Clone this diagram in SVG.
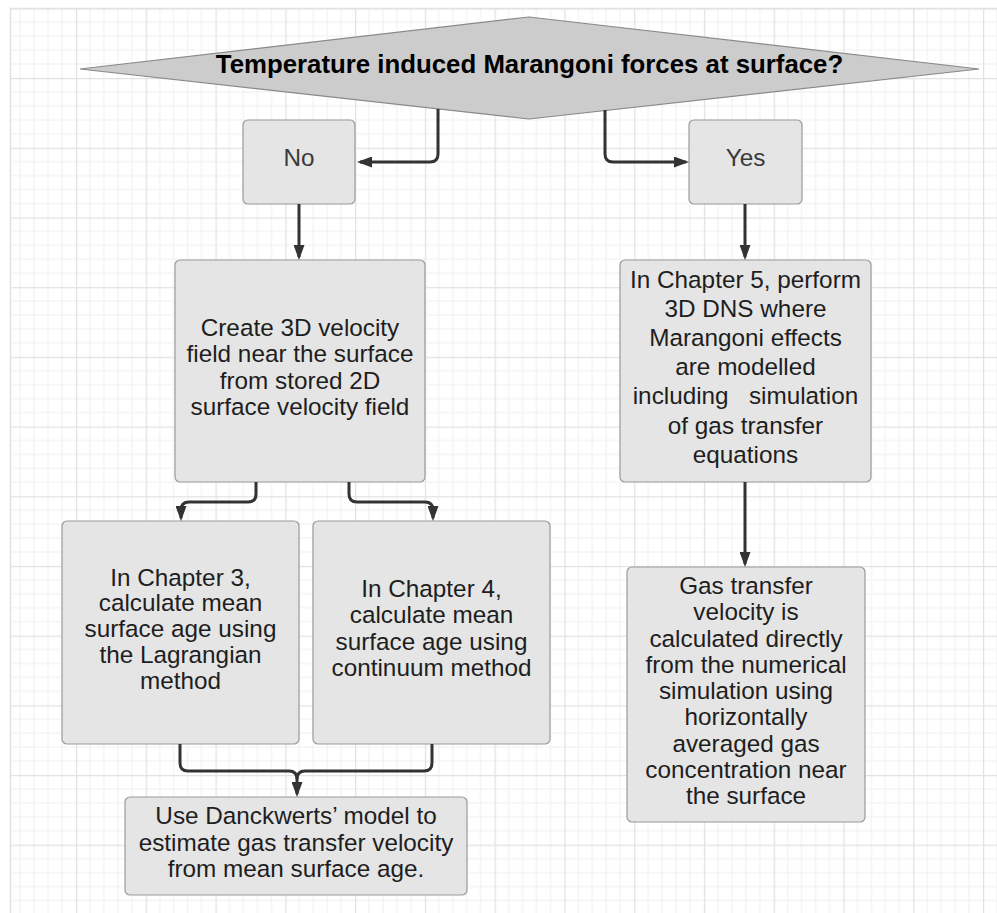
<svg xmlns="http://www.w3.org/2000/svg" width="997" height="913" viewBox="0 0 997 913">
  <defs>
    <pattern id="grid" patternUnits="userSpaceOnUse" x="6.2" y="8.3" width="69.77" height="69.7">
      <g stroke="#efefef" stroke-width="1" fill="none">
        <path d="M13.95,0 V69.7 M27.9,0 V69.7 M41.86,0 V69.7 M55.81,0 V69.7"/>
        <path d="M0,13.94 H69.77 M0,27.88 H69.77 M0,41.82 H69.77 M0,55.76 H69.77"/>
      </g>
      <g stroke="#e2e2e2" stroke-width="1.5" fill="none">
        <path d="M0.5,0 V69.7 M0,0.5 H69.77"/>
      </g>
    </pattern>
    <marker id="arr" markerUnits="userSpaceOnUse" markerWidth="15" markerHeight="11" refX="12" refY="5.5" orient="auto">
      <path d="M0,0 L15,5.5 L0,11 z" fill="#333333"/>
    </marker>
    <style>
      .box { fill: #e5e5e5; stroke: #9a9a9a; stroke-width: 1.2; }
      .dia { fill: #cccccc; stroke: #8a8a8a; stroke-width: 1.2; }
      .t { font-family: "Liberation Sans", Arial, sans-serif; font-size: 24.3px; fill: #1e1e1e; text-anchor: middle; }
      .lbl { font-family: "Liberation Sans", Arial, sans-serif; font-size: 24.3px; fill: #3a3a3a; text-anchor: middle; }
      .title { font-family: "Liberation Sans", Arial, sans-serif; font-size: 25.8px; font-weight: bold; fill: #000000; text-anchor: middle; }
      .con { fill: none; stroke: #333333; stroke-width: 3; marker-end: url(#arr); }
    </style>
  </defs>

  <rect x="0" y="0" width="997" height="913" fill="#ffffff"/>
  <rect x="10" y="8" width="987" height="905" fill="url(#grid)"/>
  <path d="M10,8.5 H997 M10.5,8 V913" stroke="#e2e2e2" stroke-width="1.5" fill="none"/>

  <g id="decision">
    <polygon class="dia" points="80,69 529,17 979,69 529,119"/>
    <text class="title" x="529.5" y="73">Temperature induced Marangoni forces at surface?</text>
  </g>

  <g id="no">
    <rect class="box" x="243" y="120" width="112" height="84" rx="5"/>
    <text class="lbl" x="299" y="166">No</text>
  </g>

  <g id="yes">
    <rect class="box" x="689" y="120" width="113" height="84" rx="5"/>
    <text class="lbl" x="745.5" y="166">Yes</text>
  </g>

  <g id="create">
    <rect class="box" x="175" y="260" width="250" height="222" rx="5"/>
    <text class="t" x="300" y="336">Create 3D velocity</text>
    <text class="t" x="300" y="362.3">field near the surface</text>
    <text class="t" x="300" y="388.6">from stored 2D</text>
    <text class="t" x="300" y="414.9">surface velocity field</text>
  </g>

  <g id="chapter5">
    <rect class="box" x="620" y="260" width="251" height="222" rx="5"/>
    <text class="t" x="745.5" y="288">In Chapter 5, perform</text>
    <text class="t" x="745.5" y="317.1">3D DNS where</text>
    <text class="t" x="745.5" y="346.2">Marangoni effects</text>
    <text class="t" x="745.5" y="375.3">are modelled</text>
    <text class="t" x="745.5" y="404.4" xml:space="preserve">including   simulation</text>
    <text class="t" x="745.5" y="433.5">of gas transfer</text>
    <text class="t" x="745.5" y="462.6">equations</text>
  </g>

  <g id="chapter3">
    <rect class="box" x="62" y="521" width="237" height="223" rx="5"/>
    <text class="t" x="180.5" y="585.5">In Chapter 3,</text>
    <text class="t" x="180.5" y="611.3">calculate mean</text>
    <text class="t" x="180.5" y="637.1">surface age using</text>
    <text class="t" x="180.5" y="662.9">the Lagrangian</text>
    <text class="t" x="180.5" y="688.7">method</text>
  </g>

  <g id="chapter4">
    <rect class="box" x="313" y="521" width="237" height="223" rx="5"/>
    <text class="t" x="431.5" y="597">In Chapter 4,</text>
    <text class="t" x="431.5" y="623.4">calculate mean</text>
    <text class="t" x="431.5" y="649.8">surface age using</text>
    <text class="t" x="431.5" y="676.2">continuum method</text>
  </g>

  <g id="danckwerts">
    <rect class="box" x="125" y="797" width="342" height="98" rx="5"/>
    <text class="t" x="296" y="824">Use Danckwerts’ model to</text>
    <text class="t" x="296" y="850.5">estimate gas transfer velocity</text>
    <text class="t" x="296" y="877">from mean surface age.</text>
  </g>

  <g id="gastransfer">
    <rect class="box" x="627" y="567" width="238" height="255" rx="5"/>
    <text class="t" x="746" y="594">Gas transfer</text>
    <text class="t" x="746" y="620.25">velocity is</text>
    <text class="t" x="746" y="646.5">calculated directly</text>
    <text class="t" x="746" y="672.75">from the numerical</text>
    <text class="t" x="746" y="699">simulation using</text>
    <text class="t" x="746" y="725.25">horizontally</text>
    <text class="t" x="746" y="751.5">averaged gas</text>
    <text class="t" x="746" y="777.75">concentration near</text>
    <text class="t" x="746" y="804">the surface</text>
  </g>

  <g id="connectors">
    <path class="con" d="M438,109 V154 Q438,162 430,162 H360"/>
    <path class="con" d="M605,110 V154 Q605,162 613,162 H686"/>
    <path class="con" d="M299,204 V257"/>
    <path class="con" d="M745,204 V257"/>
    <path class="con" d="M256,482 V494 Q256,502 248,502 H189 Q181,502 181,510 V518"/>
    <path class="con" d="M349,482 V494 Q349,502 357,502 H425 Q433,502 433,510 V518"/>
    <path class="con" d="M180,744 V763 Q180,771 188,771 H289 Q297,771 297,779 V794"/>
    <path class="con" style="marker-end:none" d="M432,744 V763 Q432,771 424,771 H305 Q297,771 297,779"/>
    <path class="con" d="M745,482 V564"/>
  </g>
</svg>
